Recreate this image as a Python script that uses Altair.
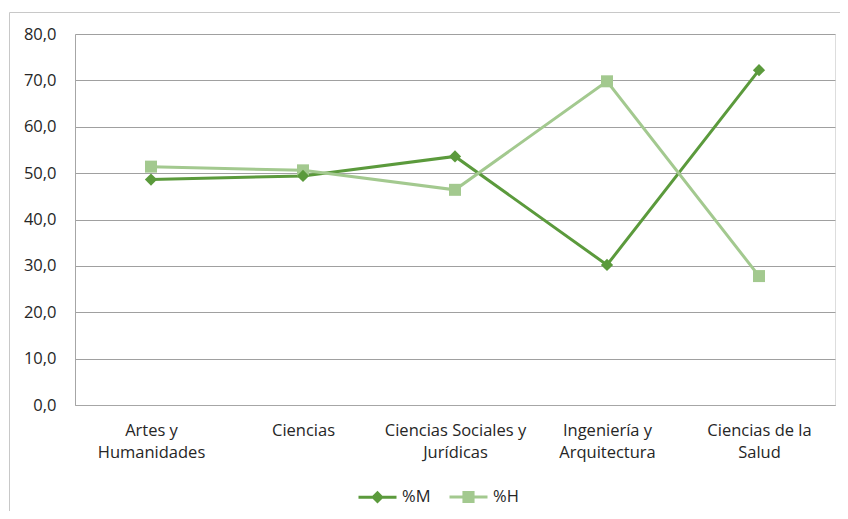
import altair as alt
import pandas as pd

categories = ["Artes y|Humanidades", "Ciencias", "Ciencias Sociales y|Jurídicas",
              "Ingeniería y|Arquitectura", "Ciencias de la|Salud"]
pct_m = [48.6, 49.4, 53.6, 30.2, 72.2]
pct_h = [51.4, 50.6, 46.4, 69.8, 27.8]
series = ["%M", "%H"]
colors = ["#5b9a3c", "#a3c98f"]
y_ticks = [0, 10, 20, 30, 40, 50, 60, 70, 80]

rows = []
for c, m, h in zip(categories, pct_m, pct_h):
    rows.append({"cat": c, "serie": "%M", "val": m})
    rows.append({"cat": c, "serie": "%H", "val": h})
df = pd.DataFrame(rows)

FONT = "Open Sans"
TXT = "#262626"
FS = 16.5

x_enc = alt.X("cat:N", sort=categories, scale=alt.Scale(paddingInner=0, paddingOuter=0.5),
              axis=alt.Axis(title=None, labelAngle=0, labelExpr="split(datum.label, '|')",
                            labelFont=FONT, labelFontSize=FS, labelColor=TXT, labelLineHeight=22,
                            labelPadding=17, ticks=False, domainColor="#a6a6a6", grid=False,
                            labelBaseline="top"))
y_enc = alt.Y("val:Q", scale=alt.Scale(domain=[0, 80], nice=False),
              axis=alt.Axis(title=None, values=y_ticks,
                            labelExpr="replace(format(datum.value, '.1f'), '.', ',')",
                            labelFont=FONT, labelFontSize=FS, labelColor=TXT, labelPadding=19,
                            ticks=False, domainColor="#a6a6a6", gridColor="#a0a0a0", gridWidth=1))

path_m = "M-1,0L1,0M-0.22,0L0,-0.22L0.22,0L0,0.22Z"
path_h = "M-1,0L1,0M-0.24,-0.24L0.24,-0.24L0.24,0.24L-0.24,0.24Z"

line_m = alt.Chart(df).transform_filter(alt.datum.serie == "%M").mark_line(
    strokeWidth=3, color=colors[0]).encode(x=x_enc, y=y_enc)
line_h = alt.Chart(df).transform_filter(alt.datum.serie == "%H").mark_line(
    strokeWidth=3, color=colors[1]).encode(x=x_enc, y=y_enc)

pts_m = alt.Chart(df).transform_filter(alt.datum.serie == "%M").mark_point(
    shape="diamond", filled=True, size=150, color=colors[0], opacity=1).encode(x=x_enc, y=y_enc)
pts_h = alt.Chart(df).transform_filter(alt.datum.serie == "%H").mark_point(
    shape="square", filled=True, size=144, color=colors[1], opacity=1).encode(x=x_enc, y=y_enc)

leg = dict(title=None, orient="none", direction="horizontal", legendX=282, legendY=442,
           labelFont=FONT, labelFontSize=FS, labelColor=TXT, symbolSize=1444,
           symbolStrokeWidth=3, symbolOpacity=1, labelOffset=4, columnPadding=12)
legend_layer = alt.Chart(df).mark_point(opacity=0, filled=True).encode(
    x=x_enc, y=y_enc,
    shape=alt.Shape("serie:N", scale=alt.Scale(domain=series, range=[path_m, path_h]),
                    legend=alt.Legend(**leg)),
    fill=alt.Fill("serie:N", scale=alt.Scale(domain=series, range=colors), legend=alt.Legend(**leg)),
    stroke=alt.Stroke("serie:N", scale=alt.Scale(domain=series, range=colors), legend=alt.Legend(**leg)),
)

frame = alt.Chart(pd.DataFrame({"a": [0]})).mark_rect(
    fill=None, stroke="#c8c8c8", strokeWidth=1, clip=False).encode(
    x=alt.value(-65.5), x2=alt.value(800), y=alt.value(-21.5), y2=alt.value(520))

chart = alt.layer(frame, legend_layer, line_m, line_h, pts_h, pts_m).properties(
    width=760, height=371,
    autosize=alt.AutoSizeParams(type="none"),
    padding={"left": 67, "top": 26, "right": 5, "bottom": 106},
).configure_view(stroke=None).configure(background="white")

chart.save("out.html", embed_options={"renderer": "svg", "actions": False})
